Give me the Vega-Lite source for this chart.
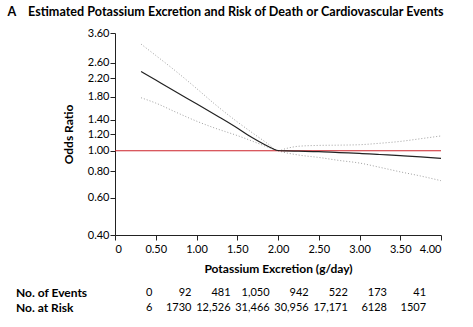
{
  "$schema": "https://vega.github.io/schema/vega-lite/v6.json",
  "padding": {"left": 7, "top": 6, "right": 10, "bottom": 5},
  "background": "white",
  "title": {
    "text": "A\u00a0\u00a0\u00a0 Estimated Potassium Excretion and Risk of Death or Cardiovascular Events",
    "anchor": "start", "frame": "bounds", "dx": -8, "offset": 8,
    "font": "Lato", "fontSize": 12.6, "fontWeight": "bold", "color": "#000"
  },
  "config": {
    "font": "Lato",
    "view": {"stroke": null},
    "axis": {
      "grid": false, "domainColor": "#222", "tickColor": "#222", "tickSize": 5,
      "labelFont": "Lato", "labelFontSize": 11, "labelColor": "#000", "labelPadding": 2,
      "titleFont": "Lato", "titleFontSize": 12, "titleFontWeight": "bold", "titleColor": "#000"
    }
  },
  "datasets": {
    "curve": [
      {"k": 0.32, "or": 2.37, "series": "estimate"},
      {"k": 0.5, "or": 2.158, "series": "estimate"},
      {"k": 0.75, "or": 1.895, "series": "estimate"},
      {"k": 1.0, "or": 1.667, "series": "estimate"},
      {"k": 1.25, "or": 1.464, "series": "estimate"},
      {"k": 1.5, "or": 1.28, "series": "estimate"},
      {"k": 1.625, "or": 1.19, "series": "estimate"},
      {"k": 1.75, "or": 1.115, "series": "estimate"},
      {"k": 1.875, "or": 1.05, "series": "estimate"},
      {"k": 1.95, "or": 1.017, "series": "estimate"},
      {"k": 2.0, "or": 1.003, "series": "estimate"},
      {"k": 2.1, "or": 0.998, "series": "estimate"},
      {"k": 2.25, "or": 0.995, "series": "estimate"},
      {"k": 2.5, "or": 0.99, "series": "estimate"},
      {"k": 2.75, "or": 0.98, "series": "estimate"},
      {"k": 3.0, "or": 0.972, "series": "estimate"},
      {"k": 3.25, "or": 0.96, "series": "estimate"},
      {"k": 3.5, "or": 0.948, "series": "estimate"},
      {"k": 3.75, "or": 0.935, "series": "estimate"},
      {"k": 4.0, "or": 0.92, "series": "estimate"},
      {"k": 0.32, "or": 3.19, "series": "upper"},
      {"k": 0.5, "or": 2.82, "series": "upper"},
      {"k": 0.75, "or": 2.37, "series": "upper"},
      {"k": 1.0, "or": 1.97, "series": "upper"},
      {"k": 1.25, "or": 1.63, "series": "upper"},
      {"k": 1.5, "or": 1.37, "series": "upper"},
      {"k": 1.75, "or": 1.167, "series": "upper"},
      {"k": 1.875, "or": 1.08, "series": "upper"},
      {"k": 2.0, "or": 1.0, "series": "upper"},
      {"k": 2.1, "or": 1.025, "series": "upper"},
      {"k": 2.25, "or": 1.05, "series": "upper"},
      {"k": 2.5, "or": 1.06, "series": "upper"},
      {"k": 2.75, "or": 1.063, "series": "upper"},
      {"k": 3.0, "or": 1.068, "series": "upper"},
      {"k": 3.25, "or": 1.085, "series": "upper"},
      {"k": 3.5, "or": 1.107, "series": "upper"},
      {"k": 3.75, "or": 1.14, "series": "upper"},
      {"k": 4.0, "or": 1.175, "series": "upper"},
      {"k": 0.32, "or": 1.78, "series": "lower"},
      {"k": 0.5, "or": 1.68, "series": "lower"},
      {"k": 0.75, "or": 1.52, "series": "lower"},
      {"k": 1.0, "or": 1.38, "series": "lower"},
      {"k": 1.25, "or": 1.27, "series": "lower"},
      {"k": 1.5, "or": 1.18, "series": "lower"},
      {"k": 1.75, "or": 1.086, "series": "lower"},
      {"k": 1.875, "or": 1.04, "series": "lower"},
      {"k": 2.0, "or": 1.0, "series": "lower"},
      {"k": 2.25, "or": 0.955, "series": "lower"},
      {"k": 2.5, "or": 0.93, "series": "lower"},
      {"k": 2.75, "or": 0.9, "series": "lower"},
      {"k": 3.0, "or": 0.875, "series": "lower"},
      {"k": 3.25, "or": 0.835, "series": "lower"},
      {"k": 3.5, "or": 0.795, "series": "lower"},
      {"k": 3.75, "or": 0.76, "series": "lower"},
      {"k": 4.0, "or": 0.722, "series": "lower"}
    ],
    "reference": [{"or": 1.0}],
    "table": [
      {"col": 1, "row": "No. of Events", "value": "0"},
      {"col": 2, "row": "No. of Events", "value": "92"},
      {"col": 3, "row": "No. of Events", "value": "481"},
      {"col": 4, "row": "No. of Events", "value": "1,050"},
      {"col": 5, "row": "No. of Events", "value": "942"},
      {"col": 6, "row": "No. of Events", "value": "522"},
      {"col": 7, "row": "No. of Events", "value": "173"},
      {"col": 8, "row": "No. of Events", "value": "41"},
      {"col": 1, "row": "No. at Risk", "value": "6"},
      {"col": 2, "row": "No. at Risk", "value": "1730"},
      {"col": 3, "row": "No. at Risk", "value": "12,526"},
      {"col": 4, "row": "No. at Risk", "value": "31,466"},
      {"col": 5, "row": "No. at Risk", "value": "30,956"},
      {"col": 6, "row": "No. at Risk", "value": "17,171"},
      {"col": 7, "row": "No. at Risk", "value": "6128"},
      {"col": 8, "row": "No. at Risk", "value": "1507"}
    ]
  },
  "spacing": 11,
  "vconcat": [
    {
      "width": 326,
      "height": 202,
      "encoding": {
        "x": {
          "field": "k", "type": "quantitative",
          "scale": {"domain": [0, 4], "nice": false, "zero": false},
          "axis": {
            "values": [0, 0.5, 1, 1.5, 2, 2.5, 3, 3.5, 4],
            "labelExpr": "datum.value == 0 ? '0' : format(datum.value, '.2f')",
            "title": "Potassium Excretion (g/day)", "titlePadding": 9, "labelPadding": 3
          }
        },
        "y": {
          "field": "or", "type": "quantitative",
          "scale": {"type": "log", "domain": [0.4, 3.6], "nice": false},
          "axis": {
            "values": [0.4, 0.6, 0.8, 1.0, 1.2, 1.4, 1.8, 2.2, 2.6, 3.6],
            "format": ".2f", "title": "Odds Ratio", "titlePadding": 12, "labelPadding": 1
          }
        }
      },
      "layer": [
        {
          "data": {"name": "curve"},
          "transform": [{"filter": "datum.series != 'estimate'"}],
          "mark": {"type": "line", "color": "#a0a0a0", "strokeWidth": 1, "strokeDash": [1, 2], "interpolate": "monotone"},
          "encoding": {"detail": {"field": "series", "type": "nominal"}}
        },
        {
          "data": {"name": "reference"},
          "mark": {"type": "rule", "color": "#cc2229", "strokeWidth": 1.2},
          "encoding": {"x": null}
        },
        {
          "data": {"name": "curve"},
          "transform": [{"filter": "datum.series == 'estimate'"}],
          "mark": {"type": "line", "color": "#222", "strokeWidth": 1.2, "interpolate": "monotone"},
          "encoding": {}
        }
      ]
    },
    {
      "width": 326,
      "height": 30,
      "data": {"name": "table"},
      "mark": {"type": "text", "align": "right", "baseline": "middle", "fontSize": 11, "font": "Lato", "color": "#000"},
      "encoding": {
        "x": {
          "field": "col", "type": "ordinal", "sort": "ascending",
          "scale": {"type": "point", "padding": 0.669, "align": 0.714},
          "axis": null
        },
        "y": {
          "field": "row", "type": "nominal", "sort": ["No. of Events", "No. at Risk"],
          "scale": {"paddingInner": 0, "paddingOuter": 0},
          "axis": {
            "title": null, "domain": false, "ticks": false,
            "labelAlign": "left", "labelPadding": 99.5,
            "labelFontWeight": "bold", "labelFontSize": 12, "labelColor": "#000"
          }
        },
        "text": {"field": "value", "type": "nominal"}
      }
    }
  ]
}
